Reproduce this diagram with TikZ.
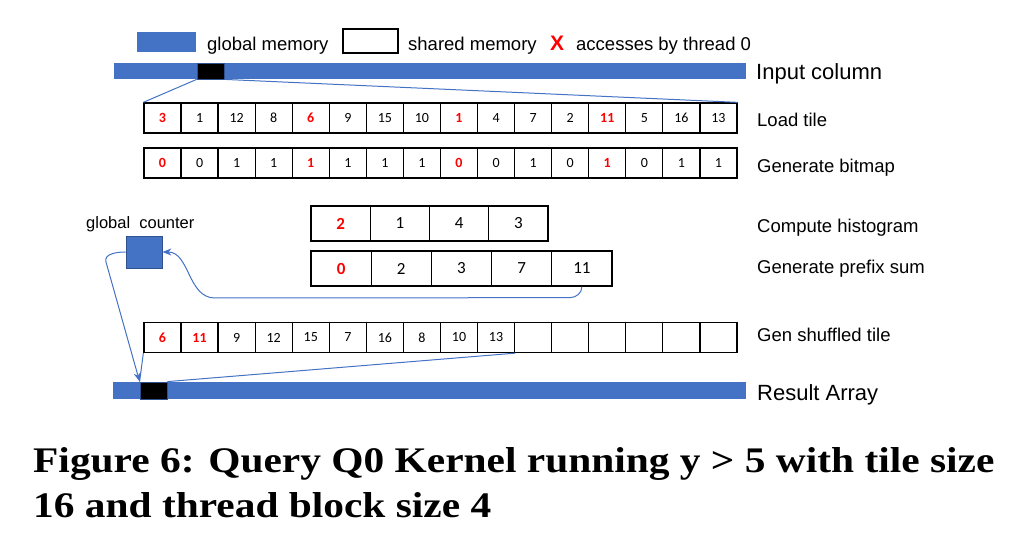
\documentclass[tikz,border=0pt]{standalone}
\usepackage{fontspec}
\setmainfont{Liberation Serif}
\setsansfont{Liberation Sans}
\newfontfamily\calibri{Carlito}
\usetikzlibrary{arrows.meta}

\definecolor{gblue}{HTML}{4472C4}
\definecolor{dblue}{HTML}{2F528F}
\definecolor{xred}{HTML}{FF0000}

\newcommand\hit[1]{\textcolor{xred}{\bfseries #1}}
\newcommand\px[1]{\fontsize{#1bp}{#1bp}\selectfont}

\begin{document}
\begin{tikzpicture}[
    x=1bp, y=-1bp,
    gmem/.style={rectangle, fill=gblue, draw=none, inner sep=0pt},
    smem/.style={rectangle, draw=black, line width=1.2bp, inner sep=0pt},
    acc/.style={rectangle, fill=black, draw=dblue, line width=0.8bp, inner sep=0pt,
                minimum width=27bp, minimum height=16bp},
    cell/.style={rectangle, draw, line width=1.3bp, inner sep=0pt,
                 minimum width=37.06bp, minimum height=30bp, font=\calibri\px{14}},
    bigcell/.style={cell, minimum height=35bp, font=\calibri\px{17}},
    lbl/.style={anchor=base west, inner sep=0pt, font=\sffamily\px{18.5}},
    biglbl/.style={lbl, font=\sffamily\px{22}},
    link/.style={draw=gblue, line width=1bp},
    arr/.style={link, -{Stealth[length=9bp, width=7bp]}}
]
    \useasboundingbox (0,0) rectangle (1024,546);

    % legend
    \node[gmem, minimum width=59bp, minimum height=20bp] (key-g) at (166.5,42) {};
    \node[lbl] (key-g-txt) at (207,51) {global memory};
    \node[smem, minimum width=55bp, minimum height=24bp] (key-s) at (370.5,41) {};
    \node[lbl] (key-s-txt) at (408,51) {shared memory};
    \node[lbl, font=\sffamily\bfseries\px{21}, text=xred] (key-x) at (550,51) {X};
    \node[lbl] (key-x-txt) at (576,51) {accesses by thread 0};

    % input column
    \node[gmem, minimum width=632bp, minimum height=16bp] (incol) at (430,71) {};
    \node[acc] (inacc) at (210.5,71) {};
    \node[biglbl] (lbl-in) at (756,80) {Input column};

    % load tile and bitmap
    \foreach \v [count=\i] in {\hit{3},1,12,8,\hit{6},9,15,10,\hit{1},4,7,2,\hit{11},5,16,13}
        \node[cell] (load-\i) at ({144+37.06*(\i-0.5)},118) {\v};
    \foreach \v [count=\i] in {\hit{0},0,1,1,\hit{1},1,1,1,\hit{0},0,1,0,\hit{1},0,1,1}
        \node[cell] (bmp-\i) at ({144+37.06*(\i-0.5)},163) {\v};
    \node[lbl] (lbl-load) at (757,127) {Load tile};
    \node[lbl] (lbl-bmp) at (757,173) {Generate bitmap};

    \draw[link] (inacc.south west) -- (load-1.north west);
    \draw[link] (inacc.south east) -- (load-16.north east);

    % histogram and prefix sum
    \foreach \v [count=\i] in {\hit{2},1,4,3}
        \node[bigcell, minimum width=59.25bp] (hist-\i) at ({311+59.25*(\i-0.5)},223.5) {\v};
    \foreach \v [count=\i] in {\hit{0},2,3,7,11}
        \node[bigcell, minimum width=60.2bp] (pre-\i) at ({311+60.2*(\i-0.5)},268.5) {\v};
    \node[lbl] (lbl-hist) at (757,233) {Compute histogram};
    \node[lbl] (lbl-pre) at (757,274) {Generate prefix sum};

    % global counter
    \node[rectangle, fill=gblue, draw=dblue, line width=0.8bp,
          minimum width=36bp, minimum height=32bp] (gctr) at (144,252) {};
    \node[lbl, font=\sffamily\px{16.5}] (gctr-lbl) at (86,229) {global\ \ counter};

    % shuffled tile and result
    \foreach \v [count=\i] in {\hit{6},\hit{11},9,12,15,7,16,8,10,13,{},{},{},{},{},{}}
        \node[cell] (shuf-\i) at ({144+37.06*(\i-0.5)},337.5) {\v};
    \node[lbl] (lbl-shuf) at (757,342) {Gen shuffled tile};

    \node[gmem, minimum width=633bp, minimum height=17bp] (res) at (429.5,390.5) {};
    \node[acc, minimum height=17bp] (resacc) at (153.5,390.5) {};
    \node[biglbl] (lbl-res) at (757,400) {Result Array};

    \draw[link] (shuf-1.south west) -- (resacc.north west);
    \draw[link] (shuf-10.south east) -- (resacc.north east);

    % counter updates
    \coordinate (sweep) at (215,298);
    \coordinate (drop) at (106,262);
    \draw[arr] (pre-5.south) to[out=-90, in=0] ++(-12,11) -- (sweep)
        to[out=180, in=0] (gctr.east);
    \draw[arr] (gctr.west) to[out=180, in=107] (drop) -- (resacc.north west);

    % caption
    \node[anchor=base west, inner sep=0pt, font=\bfseries\px{36}] (cap-1) at (33,472)
        {\scalebox{1.15}[1]{Figure 6: Query Q0 Kernel running y > 5 with tile size}};
    \node[anchor=base west, inner sep=0pt, font=\bfseries\px{36}] (cap-2) at (33,517)
        {\scalebox{1.15}[1]{16 and thread block size 4}};
\end{tikzpicture}
\end{document}
